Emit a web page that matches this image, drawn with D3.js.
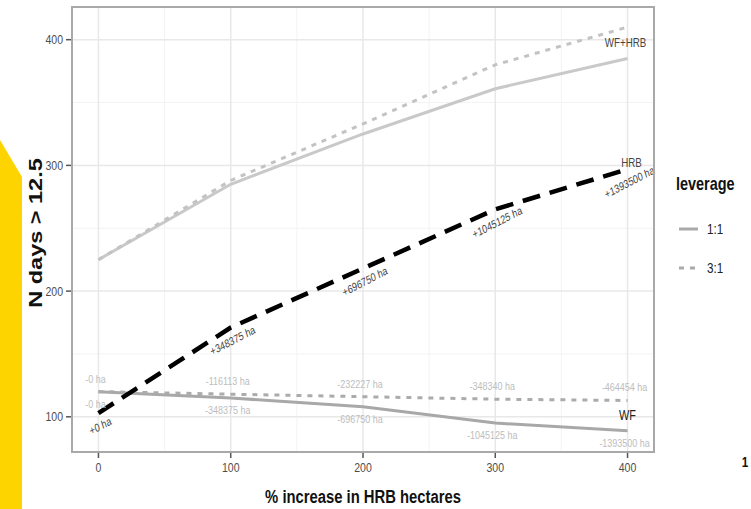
<!DOCTYPE html>
<html>
<head>
<meta charset="utf-8">
<script src="https://cdn.jsdelivr.net/npm/d3@7"></script>
<style>
  html, body { margin: 0; padding: 0; background: #fff; }
  svg { display: block; }
  text { font-family: "Liberation Sans", Arial, sans-serif; }
</style>
</head>
<body>
<svg id="chart" width="751" height="509"></svg>
<script>
// % increase in HRB hectares
const pctIncrease = [0, 100, 200, 300, 400];

// N days > 12.5 for each scenario
const wfHrb11 = [225, 285, 325, 361, 385];
const wfHrb31 = [225, 288, 333, 380, 410];
const hrb     = [103, 171, 218, 265, 297];
const wf11    = [120, 115, 108, 95, 89];
const wf31    = [120, 118, 116, 114, 113];

// hectare change labels
const hrbLabels  = ["+0 ha", "+348375 ha", "+696750 ha", "+1045125 ha", "+1393500 ha"];
const wf11Labels = ["-0 ha", "-348375 ha", "-696750 ha", "-1045125 ha", "-1393500 ha"];
const wf31Labels = ["-0 ha", "-116113 ha", "-232227 ha", "-348340 ha", "-464454 ha"];

const xTicks = [0, 100, 200, 300, 400];
const yTicks = [100, 200, 300, 400];
const xMinor = [50, 150, 250, 350];
const yMinor = [150, 250, 350];
const leverageLevels = ["1:1", "3:1"];

const svg = d3.select("#chart");
const panel = { left: 72, right: 654, top: 7, bottom: 452 };

const x = d3.scaleLinear().domain([-20, 420]).range([panel.left, panel.right]);
const y = d3.scaleLinear().domain([72, 426]).range([panel.bottom, panel.top]);

const SX = 0.78; // condensed text width

function txt(g, px, py, str, o) {
  return g.append("text")
    .attr("transform", `translate(${px},${py}) scale(${o.sx || SX},1) rotate(${o.rotate || 0})`)
    .attr("text-anchor", o.anchor || "middle")
    .attr("dominant-baseline", "central")
    .attr("font-size", o.size)
    .attr("font-weight", o.weight || "normal")
    .attr("fill", o.fill || "#333")
    .text(str);
}

// yellow side band
svg.append("polygon")
  .attr("points", "0,140 22,177 22,509 0,509")
  .attr("fill", "#FDD300");

// grid
const grid = svg.append("g");
grid.selectAll(".xmin").data(xMinor).join("line")
  .attr("x1", d => x(d)).attr("x2", d => x(d))
  .attr("y1", panel.top).attr("y2", panel.bottom)
  .attr("stroke", "#f3f3f3").attr("stroke-width", 1);
grid.selectAll(".ymin").data(yMinor).join("line")
  .attr("y1", d => y(d)).attr("y2", d => y(d))
  .attr("x1", panel.left).attr("x2", panel.right)
  .attr("stroke", "#f3f3f3").attr("stroke-width", 1);
grid.selectAll(".xmaj").data(xTicks).join("line")
  .attr("x1", d => x(d)).attr("x2", d => x(d))
  .attr("y1", panel.top).attr("y2", panel.bottom)
  .attr("stroke", "#e8e8e8").attr("stroke-width", 1.5);
grid.selectAll(".ymaj").data(yTicks).join("line")
  .attr("y1", d => y(d)).attr("y2", d => y(d))
  .attr("x1", panel.left).attr("x2", panel.right)
  .attr("stroke", "#e8e8e8").attr("stroke-width", 1.5);

// series lines
const line = vals => d3.line().x((d, i) => x(pctIncrease[i])).y(d => y(d))(vals);

const series = [
  { vals: wfHrb11, color: "#c9c9c9", width: 3,   dash: null },
  { vals: wfHrb31, color: "#c3c3c3", width: 3,   dash: "5,6" },
  { vals: wf11,    color: "#a8a8a8", width: 3,   dash: null },
  { vals: wf31,    color: "#ababab", width: 3,   dash: "5,6" },
  { vals: hrb,     color: "#000000", width: 4.5, dash: "18,10" }
];
const lines = svg.append("g");
series.forEach(s => {
  lines.append("path")
    .attr("d", line(s.vals))
    .attr("fill", "none")
    .attr("stroke", s.color)
    .attr("stroke-width", s.width)
    .attr("stroke-dasharray", s.dash)
    .attr("stroke-linecap", "butt");
});

// hectare labels
const labels = svg.append("g");
pctIncrease.forEach((p, i) => {
  txt(labels, x(p) - 3, y(wf31[i]) - 13, wf31Labels[i], { size: 11.5, fill: "#bdbdbd" });
  txt(labels, x(p) - 3, y(wf11[i]) + 12, wf11Labels[i], { size: 11.5, fill: "#bdbdbd" });
  txt(labels, x(p) + 2, y(hrb[i]) + 13, hrbLabels[i], { size: 11.5, fill: "#444", rotate: -22 });
});

// series end labels
txt(labels, x(400) - 2, y((wfHrb11[4] + wfHrb31[4]) / 2), "WF+HRB", { size: 12.5, fill: "#444" });
txt(labels, x(400) + 4, y(hrb[4]) - 7, "HRB", { size: 12.5, fill: "#444" });
txt(labels, x(400), y((wf11[4] + wf31[4]) / 2), "WF", { size: 14, fill: "#222" });

// panel border
svg.append("rect")
  .attr("x", panel.left).attr("y", panel.top)
  .attr("width", panel.right - panel.left).attr("height", panel.bottom - panel.top)
  .attr("fill", "none").attr("stroke", "#a9a9a9").attr("stroke-width", 2);

// axes
const axes = svg.append("g");
axes.selectAll(".xt").data(xTicks).join("line")
  .attr("x1", d => x(d)).attr("x2", d => x(d))
  .attr("y1", panel.bottom + 1).attr("y2", panel.bottom + 6)
  .attr("stroke", "#555").attr("stroke-width", 1.5);
axes.selectAll(".yt").data(yTicks).join("line")
  .attr("y1", d => y(d)).attr("y2", d => y(d))
  .attr("x1", panel.left - 6).attr("x2", panel.left - 1)
  .attr("stroke", "#555").attr("stroke-width", 1.5);
xTicks.forEach(d => txt(axes, x(d), panel.bottom + 16, d3.format("d")(d), { size: 13.5, fill: "#4d4d4d" }));
yTicks.forEach(d => txt(axes, panel.left - 9, y(d), d3.format("d")(d), { size: 13.5, fill: "#4d4d4d", anchor: "end" }));

// axis titles
txt(svg, (panel.left + panel.right) / 2, 497, "% increase in HRB hectares", { size: 19, weight: "bold", fill: "#111" });
svg.append("text")
  .attr("transform", `translate(35,233) scale(0.78,1) rotate(-90)`)
  .attr("text-anchor", "middle")
  .attr("dominant-baseline", "central")
  .attr("font-size", 23.5)
  .attr("font-weight", "bold")
  .attr("fill", "#111")
  .text("N days > 12.5");

// legend
const legend = svg.append("g");
txt(legend, 676, 184, "leverage", { size: 18.5, weight: "bold", fill: "#111", anchor: "start" });
leverageLevels.forEach((lv, i) => {
  const ky = 229 + i * 39;
  legend.append("line")
    .attr("x1", 679).attr("x2", 698).attr("y1", ky).attr("y2", ky)
    .attr("stroke", "#aaa").attr("stroke-width", 3)
    .attr("stroke-dasharray", i === 1 ? "5,6" : null);
  txt(legend, 707, ky, lv, { size: 15, fill: "#222", anchor: "start" });
});

// page fragment at the right edge
txt(svg, 745, 462, "1", { size: 15, weight: "bold", fill: "#111" });
</script>
</body>
</html>
